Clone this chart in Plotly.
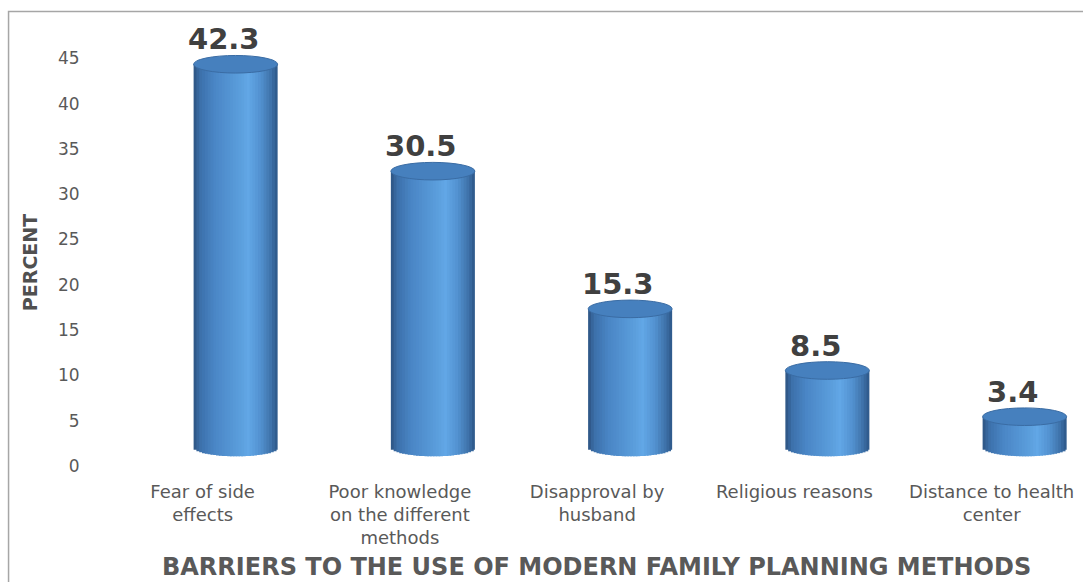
import plotly.graph_objects as go
import numpy as np

categories = ["Fear of side<br>effects", "Poor knowledge<br>on the different<br>methods",
              "Disapproval by<br>husband", "Religious reasons", "Distance to health<br>center"]
values = [42.3, 30.5, 15.3, 8.5, 3.4]
value_labels = ["42.3", "30.5", "15.3", "8.5", "3.4"]
y_ticks = [0, 5, 10, 15, 20, 25, 30, 35, 40, 45]

# geometry / style
W = 0.426          # bar width (category units)
H = 0.97           # ellipse half-height (value units)
N = 30             # strips for the cylinder shading
stops = [(-1.0, (44, 82, 128)), (-0.85, (60, 112, 170)), (-0.5, (74, 134, 198)),
         (0.1, (91, 158, 220)), (0.3, (98, 167, 230)), (0.6, (82, 145, 207)),
         (0.85, (62, 113, 168)), (1.0, (44, 86, 134))]

def shade(u):
    for (u0, c0), (u1, c1) in zip(stops[:-1], stops[1:]):
        if u0 <= u <= u1:
            t = (u - u0) / (u1 - u0)
            c = [round(a + (b - a) * t) for a, b in zip(c0, c1)]
            return "rgb(%d,%d,%d)" % tuple(c)
    return "rgb(44,86,134)"

fig = go.Figure()

# invisible trace to carry the category axis
fig.add_trace(go.Scatter(x=categories, y=values, mode="markers",
                         marker=dict(opacity=0), hoverinfo="skip", showlegend=False,
                         xaxis="x", yaxis="y"))

vals = np.array(values)
for i in range(N):
    u = -1 + (2 * i + 1) / N
    s = np.sqrt(max(0.0, 1 - u * u))
    wid = W / N * (1.6 if i < N - 1 else 1.0)
    fig.add_trace(go.Bar(
        x=categories, y=vals + H * s, base=[-H * s] * len(vals),
        width=wid, offset=-W / 2 + i * W / N,
        marker=dict(color=shade(u), line=dict(width=0)),
        hoverinfo="skip", showlegend=False, xaxis="x2", yaxis="y2"))

shapes = []
for i, v in enumerate(values):
    shapes.append(dict(type="circle", xref="x2", yref="y2",
                       x0=i - W / 2, x1=i + W / 2, y0=v - H, y1=v + H,
                       fillcolor="#4680be", line=dict(color="#3a6ca4", width=1)))

# outer chart border
shapes.append(dict(type="rect", xref="paper", yref="paper",
                   x0=-0.0975, x1=1.05, y0=-0.4, y1=1.0033,
                   line=dict(color="#a6a6a6", width=1.5), fillcolor="rgba(0,0,0,0)"))

annotations = []
for c, v, t in zip(categories, values, value_labels):
    annotations.append(dict(x=c, y=v + H, xref="x2", yref="y2", text="<b>%s</b>" % t,
                            showarrow=False, yanchor="bottom", xshift=-12, yshift=-3,
                            font=dict(family="DejaVu Sans", size=29, color="#404040")))
annotations.append(dict(x=0.5026, y=-0.223, xref="paper", yref="paper",
                        text="<b>BARRIERS TO THE USE OF MODERN FAMILY PLANNING METHODS</b>",
                        showarrow=False, xanchor="center", yanchor="middle",
                        font=dict(family="DejaVu Sans", size=24, color="#595959")))
annotations.append(dict(x=-0.0756, y=0.45, xref="paper", yref="paper",
                        text="<b>PERCENT</b>", textangle=-90,
                        showarrow=False, xanchor="center", yanchor="middle",
                        font=dict(family="DejaVu Sans", size=19, color="#505050")))

xr = [-0.5, -0.5 + 979 / 197.25]
shift_x = 33 / 197.25
yr = [0, 50]
shift_y = 18.5 / (453 / 50)

fig.update_layout(
    width=1083, height=582,
    margin=dict(l=104, r=0, t=13, b=116),
    paper_bgcolor="white", plot_bgcolor="white",
    barmode="overlay",
    showlegend=False,
    shapes=shapes, annotations=annotations,
    xaxis=dict(type="category", range=xr, showgrid=False, zeroline=False, showline=False,
               ticks="outside", ticklen=9, tickcolor="rgba(0,0,0,0)",
               tickfont=dict(family="DejaVu Sans", size=18, color="#595959")),
    yaxis=dict(range=yr, tickvals=y_ticks, showgrid=False, zeroline=False, showline=False,
               ticks="outside", ticklen=20, tickcolor="rgba(0,0,0,0)",
               tickfont=dict(family="DejaVu Sans", size=17, color="#595959")),
    xaxis2=dict(type="category", overlaying="x", range=[xr[0] - shift_x, xr[1] - shift_x],
                visible=False),
    yaxis2=dict(overlaying="y", range=[yr[0] - shift_y, yr[1] - shift_y], visible=False),
)

fig.write_html("out.html", config={"displayModeBar": False},
               post_script="document.body.style.margin='0';document.body.style.overflow='hidden';")
